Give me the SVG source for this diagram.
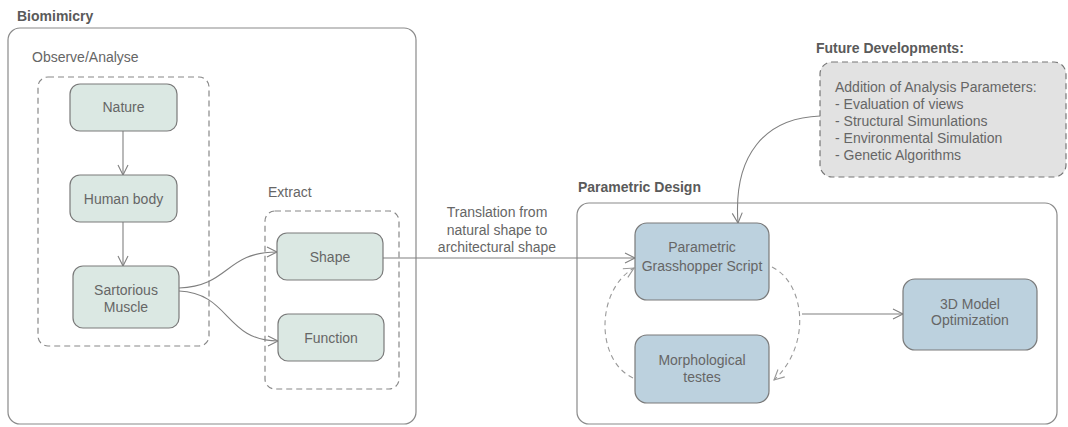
<svg xmlns="http://www.w3.org/2000/svg" width="1068" height="427" viewBox="0 0 1068 427">
<style>
text{font-family:"Liberation Sans",Arial,sans-serif;font-size:14px;fill:#666}
.title{font-weight:bold;fill:#5a5a5a}
.c{text-anchor:middle}
.frame{fill:#fff;stroke:#8a8a8a;stroke-width:1.2}
.dash{fill:none;stroke:#888;stroke-width:1.2;stroke-dasharray:6 4}
.green{fill:#dbe8e3;stroke:#7a7a7a;stroke-width:1.2}
.blue{fill:#bcd1de;stroke:#7a7a7a;stroke-width:1.2}
.gray{fill:#e2e2e2;stroke:#777;stroke-width:1.2;stroke-dasharray:6 4}
.conn{fill:none;stroke:#808080;stroke-width:1.1}
.dconn{fill:none;stroke:#999;stroke-width:1.1;stroke-dasharray:5 4}
</style>
<defs>
<marker id="arr" markerUnits="userSpaceOnUse" markerWidth="14" markerHeight="14" refX="11" refY="6" orient="auto">
<path d="M1,1 L11,6 L1,11" fill="none" stroke="#808080" stroke-width="1.1"/>
</marker>
<marker id="arrd" markerUnits="userSpaceOnUse" markerWidth="14" markerHeight="14" refX="11" refY="6" orient="auto">
<path d="M1,1 L11,6 L1,11" fill="none" stroke="#999" stroke-width="1.1"/>
</marker>
</defs>

<g id="biomimicry">
<text class="title" x="17" y="21">Biomimicry</text>
<rect class="frame" x="8" y="28" width="408" height="396" rx="12"/>
</g>
<g id="observe">
<text x="32" y="62">Observe/Analyse</text>
<rect class="dash" x="38" y="77" width="171" height="269" rx="10"/>
</g>
<g id="extract">
<text x="268" y="197">Extract</text>
<rect class="dash" x="265" y="211" width="134" height="178" rx="10"/>
</g>
<g id="parametric-design">
<text class="title" x="578" y="192">Parametric Design</text>
<rect class="frame" x="577" y="203" width="480" height="221" rx="12"/>
</g>
<g id="future">
<text class="title" x="816" y="53">Future Developments:</text>
<rect class="gray" x="820" y="62" width="246" height="115" rx="12"/>
<text x="835" y="92">Addition of Analysis Parameters:</text>
<text x="835" y="109">- Evaluation of views</text>
<text x="835" y="126">- Structural Simunlations</text>
<text x="835" y="143">- Environmental Simulation</text>
<text x="835" y="160">- Genetic Algorithms</text>
</g>

<g id="connectors">
<path class="conn" d="M123,131 L123,175" marker-end="url(#arr)"/>
<path class="conn" d="M123,222 L123,266" marker-end="url(#arr)"/>
<path class="conn" d="M179,288 C230,286 225,252 277,252" marker-end="url(#arr)"/>
<path class="conn" d="M179,291 C230,293 225,341 278,341" marker-end="url(#arr)"/>
<path class="conn" d="M383,258 L635,258" marker-end="url(#arr)"/>
<path class="conn" d="M820,116 C765,118 733,155 738,223" marker-end="url(#arr)"/>
<path class="dconn" d="M772,267 C805,283 812,345 774,380" marker-end="url(#arrd)"/>
<path class="dconn" d="M633,378 C595,360 596,290 634,268" marker-end="url(#arrd)"/>
<path class="conn" d="M802,314 L903,314" marker-end="url(#arr)"/>
<text class="c" x="497" y="217">Translation from</text>
<text class="c" x="497" y="235">natural shape to</text>
<text class="c" x="497" y="252">architectural shape</text>
</g>

<g id="nature">
<rect class="green" x="70" y="84" width="107" height="47" rx="10"/>
<text class="c" x="123.5" y="112">Nature</text>
</g>
<g id="human-body">
<rect class="green" x="70" y="175" width="107" height="47" rx="10"/>
<text class="c" x="123.5" y="204">Human body</text>
</g>
<g id="sartorious">
<rect class="green" x="73" y="266" width="106" height="62" rx="10"/>
<text class="c" x="126" y="295">Sartorious</text>
<text class="c" x="126" y="312">Muscle</text>
</g>
<g id="shape">
<rect class="green" x="277" y="233" width="106" height="47" rx="10"/>
<text class="c" x="330" y="262">Shape</text>
</g>
<g id="function">
<rect class="green" x="278" y="314" width="106" height="47" rx="10"/>
<text class="c" x="331" y="343">Function</text>
</g>
<g id="grasshopper">
<rect class="blue" x="635" y="223" width="134" height="77" rx="12"/>
<text class="c" x="702" y="252">Parametric</text>
<text class="c" x="702" y="271">Grasshopper Script</text>
</g>
<g id="morphological">
<rect class="blue" x="635" y="335" width="134" height="68" rx="12"/>
<text class="c" x="702" y="365">Morphological</text>
<text class="c" x="702" y="382">testes</text>
</g>
<g id="model">
<rect class="blue" x="903" y="279" width="134" height="71" rx="12"/>
<text class="c" x="970" y="309">3D Model</text>
<text class="c" x="970" y="325">Optimization</text>
</g>
</svg>
